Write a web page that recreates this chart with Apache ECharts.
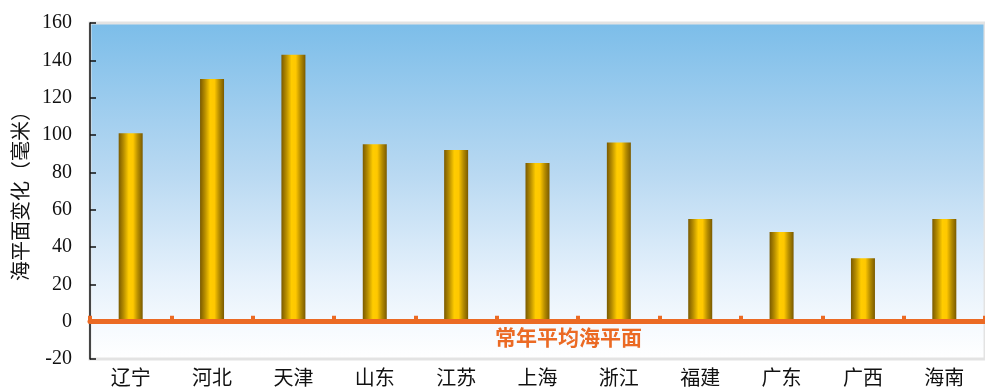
<!DOCTYPE html>
<html>
<head>
<meta charset="utf-8">
<script src="https://cdn.jsdelivr.net/npm/echarts@6/dist/echarts.min.js"></script>
<style>
  html, body { margin: 0; padding: 0; background: #ffffff; }
  #chart { width: 985px; height: 387px; }
</style>
</head>
<body>
<div id="chart"></div>
<script>
// 沿海省份海平面变化（毫米）
const provinces = ['辽宁', '河北', '天津', '山东', '江苏', '上海', '浙江', '福建', '广东', '广西', '海南'];
const seaLevelChange = [101, 130, 143, 95, 92, 85, 96, 55, 48, 34, 55];
const yTicks = { min: -20, max: 160, step: 20 };
const axisTitle = '海平面变化（毫米）';
const baselineText = '常年平均海平面';

const orange = '#EB6A24';
const chart = echarts.init(document.getElementById('chart'));

chart.setOption({
  animation: false,
  backgroundColor: '#ffffff',
  grid: {
    left: 90, right: -2, top: 23, bottom: 28,
    show: true,
    borderColor: '#e3e3e3',
    borderWidth: 3,
    backgroundColor: {
      type: 'linear', x: 0, y: 0, x2: 0, y2: 1,
      colorStops: [
        { offset: 0, color: '#7bbde9' },
        { offset: 0.45, color: '#b9d9f2' },
        { offset: 0.75, color: '#e4f0fb' },
        { offset: 0.9, color: '#f6fafe' },
        { offset: 1, color: '#ffffff' }
      ]
    }
  },
  xAxis: [
    {
      type: 'category',
      data: provinces,
      position: 'bottom',
      axisLine: { show: false, onZero: false },
      axisTick: { show: false },
      axisLabel: {
        margin: 8,
        fontSize: 20,
        color: '#111',
        fontFamily: 'Noto Sans CJK SC'
      }
    },
    {
      type: 'category',
      data: provinces,
      position: 'top',
      z: 5,
      axisLine: { show: true, onZero: true, lineStyle: { color: orange, width: 5 } },
      axisTick: { show: true, inside: false, length: 6, lineStyle: { color: orange, width: 4 } },
      axisLabel: { show: false }
    }
  ],
  yAxis: {
    type: 'value',
    min: yTicks.min,
    max: yTicks.max,
    interval: yTicks.step,
    name: axisTitle,
    nameLocation: 'middle',
    nameRotate: 90,
    nameGap: 60,
    nameTextStyle: { fontSize: 20, color: '#111', fontFamily: 'Noto Sans CJK SC' },
    axisLine: { show: true, onZero: false, lineStyle: { color: '#111', width: 1.5 } },
    axisTick: { show: true, inside: true, length: 6, lineStyle: { color: '#111', width: 1.5 } },
    axisLabel: { margin: 18, fontSize: 20, color: '#111', fontFamily: 'Liberation Serif' },
    splitLine: { show: false }
  },
  series: [
    {
      type: 'bar',
      xAxisIndex: 0,
      data: seaLevelChange,
      barWidth: 24,
      itemStyle: {
        color: {
          type: 'linear', x: 0, y: 0, x2: 1, y2: 0,
          colorStops: [
            { offset: 0, color: '#7a5a00' },
            { offset: 0.2, color: '#b58c00' },
            { offset: 0.42, color: '#ffcc00' },
            { offset: 0.6, color: '#ffc800' },
            { offset: 0.8, color: '#b58c00' },
            { offset: 1, color: '#7a5a00' }
          ]
        }
      }
    }
  ],
  graphic: [
    {
      type: 'text',
      left: 495,
      top: 327,
      style: {
        text: baselineText,
        fill: orange,
        font: 'bold 21px "Noto Sans CJK SC"'
      }
    }
  ]
});
</script>
</body>
</html>
